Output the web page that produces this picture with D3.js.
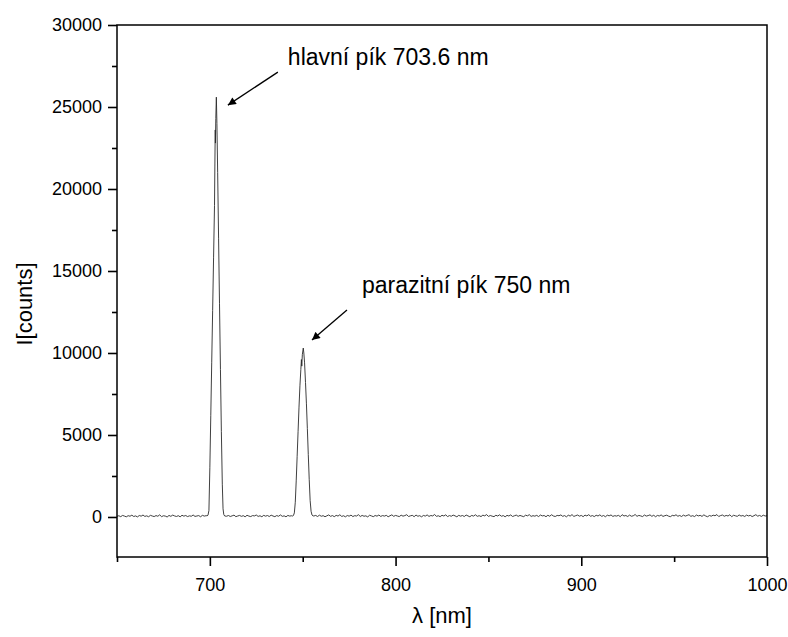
<!DOCTYPE html>
<html>
<head>
<meta charset="utf-8">
<script src="https://cdn.jsdelivr.net/npm/d3@7/dist/d3.min.js"></script>
<style>
  html, body { margin: 0; padding: 0; background: #fff; }
  svg { display: block; font-family: "Liberation Sans", Arial, sans-serif; }
</style>
</head>
<body>
<svg id="chart" width="788" height="637"></svg>
<script>
// Spectrum: baseline segments (start wavelength, 1 nm sampling) and peak profiles [nm, counts]
const baseStartA = 650;
const baseA = [40, 75, 20, 95, 55, 10, 80, 45, 110, 30, 65, 5, 90, 50, 120, 35, 70, 15, 100, 60,
  25, 85, 45, 130, 20, 75, 55, 0, 95, 40, 115, 65, 30, 80, 10, 105, 50, 90, 25, 70,
  45, 120, 35, 60, 85, 15, 100, 55, 80];

const peakMain = [
  [698.5, 70], [699.0, 110], [699.5, 400], [700.0, 3000], [700.5, 6200], [701.0, 9400],
  [701.5, 12600], [702.0, 15800], [702.5, 19000], [702.7, 21400], [702.9, 23600], [703.0, 22800],
  [703.2, 24300], [703.5, 25600], [703.8, 24000], [704.2, 21000], [704.7, 17000], [705.2, 13000],
  [705.7, 9000], [706.2, 5200], [706.7, 2000], [707.1, 500], [707.5, 150], [708.0, 60]
];

const baseStartB = 709;
const baseB = [45, 90, 30, 70, 115, 20, 60, 95, 40, 80, 10, 105, 55, 25, 85, 65, 120, 35, 75, 15,
  100, 50, 90, 30, 110, 60, 20, 85, 45, 125, 40, 70, 10, 95, 55, 75];

const peakSecond = [
  [744.5, 60], [745.0, 90], [745.5, 250], [746.0, 900], [746.5, 2200], [747.0, 3700],
  [747.5, 5200], [748.0, 6700], [748.5, 8000], [749.0, 9000], [749.3, 9600], [749.5, 9200],
  [749.8, 9900], [750.3, 10300], [750.6, 10000], [751.0, 9400], [751.5, 8200], [752.0, 6900],
  [752.5, 5400], [753.0, 3800], [753.5, 2300], [754.0, 1000], [754.5, 350], [755.0, 120], [755.5, 70]
];

const baseStartC = 756;
const baseC = [
  60, 95, 30, 110, 45, 80, 15, 70, 125, 40, 85, 20, 100, 55, 135, 35, 75, 10, 90, 50,
  115, 25, 80, 60, 140, 30, 95, 45, 70, 5, 105, 65, 20, 90, 50, 120, 35, 85, 55, 100,
  15, 75, 130, 40, 95, 60, 25, 110, 50, 85, 140, 30, 70, 100, 20, 120, 45, 80, 10, 95,
  55, 125, 35, 90, 65, 150, 40, 75, 20, 105, 60, 130, 25, 85, 45, 115, 70, 10, 100, 50,
  90, 30, 120, 65, 15, 95, 55, 135, 40, 80, 25, 110, 70, 145, 35, 90, 50, 20, 105, 60,
  130, 45, 85, 10, 100, 60, 125, 30, 75, 115, 40, 95, 55, 20, 110, 70, 140, 35, 80, 50,
  100, 25, 120, 65, 90, 15, 105, 45, 135, 60, 30, 95, 75, 125, 40, 85, 10, 110, 55, 145,
  35, 80, 120, 50, 95, 20, 115, 65, 140, 45, 85, 25, 105, 60, 130, 40, 90, 15, 110, 70,
  125, 35, 80, 55, 100, 20, 140, 60, 90, 30, 115, 45, 75, 150, 40, 95, 65, 25, 120, 55,
  85, 130, 40, 105, 15, 95, 60, 125, 35, 80, 110, 50, 20, 100, 70, 135, 45, 90, 30, 115,
  55, 95, 140, 40, 80, 25, 120, 65, 100, 35, 130, 60, 15, 90, 50, 110, 75, 145, 30, 85,
  120, 45, 95, 60, 135, 20, 105, 70, 40, 125, 55, 90, 30, 115, 65, 100, 25, 80, 140, 50,
  95, 35, 110, 60, 75
];

// Axis ticks
const xMajorTicks = [700, 800, 900, 1000];
const xMinorTicks = [650, 750, 850, 950];
const yMajorTicks = [0, 5000, 10000, 15000, 20000, 25000, 30000];
const yMinorTicks = [2500, 7500, 12500, 17500, 22500, 27500];

// Peak annotations: anchor point on the spectrum and label text
const annotations = [
  { label: "hlavní pík 703.6 nm", nm: 703.5, counts: 25600 },
  { label: "parazitní pík 750 nm", nm: 750.3, counts: 10300 }
];

const xTitle = "λ [nm]";
const yTitle = "I[counts]";

// Assemble the full spectrum in wavelength order
const seg = (start, vals) => vals.map((v, i) => [start + i, v]);
const spectrum = [].concat(
  seg(baseStartA, baseA), peakMain, seg(baseStartB, baseB), peakSecond, seg(baseStartC, baseC)
);

const svg = d3.select("#chart");
const plotLeft = 117, plotRight = 767, plotTop = 25, plotBottom = 557;

const x = d3.scaleLinear().domain([650, 1000]).range([plotLeft, plotRight]);
const y = d3.scaleLinear().domain([-2440, 30000]).range([plotBottom, plotTop]);

// Spectrum line
svg.append("path")
  .datum(spectrum)
  .attr("fill", "none")
  .attr("stroke", "#2a2a2a")
  .attr("stroke-width", 0.9)
  .attr("stroke-linejoin", "round")
  .attr("d", d3.line().x(d => x(d[0])).y(d => y(d[1])));

// Frame
svg.append("rect")
  .attr("x", plotLeft).attr("y", plotTop)
  .attr("width", plotRight - plotLeft).attr("height", plotBottom - plotTop)
  .attr("fill", "none").attr("stroke", "#000").attr("stroke-width", 1.5);

function styleAxis(g, fontSize) {
  g.select(".domain").remove();
  g.selectAll(".tick line").attr("stroke", "#000").attr("stroke-width", 1.6);
  g.selectAll(".tick text").attr("fill", "#000")
    .style("font-size", fontSize + "px")
    .style("font-family", '"Liberation Sans", Arial, sans-serif');
}

// X axis
svg.append("g").attr("transform", `translate(0,${plotBottom})`)
  .call(d3.axisBottom(x).tickValues(xMinorTicks).tickSize(5).tickFormat(""))
  .call(g => styleAxis(g, 18));
svg.append("g").attr("transform", `translate(0,${plotBottom})`)
  .call(d3.axisBottom(x).tickValues(xMajorTicks).tickSize(9).tickPadding(12).tickFormat(d3.format("d")))
  .call(g => styleAxis(g, 18));

// Y axis
svg.append("g").attr("transform", `translate(${plotLeft},0)`)
  .call(d3.axisLeft(y).tickValues(yMinorTicks).tickSize(5).tickFormat(""))
  .call(g => styleAxis(g, 18));
svg.append("g").attr("transform", `translate(${plotLeft},0)`)
  .call(d3.axisLeft(y).tickValues(yMajorTicks).tickSize(9).tickPadding(6).tickFormat(d3.format("d")))
  .call(g => styleAxis(g, 18));

// Axis titles
svg.append("text")
  .attr("x", (plotLeft + plotRight) / 2).attr("y", 623)
  .attr("text-anchor", "middle")
  .style("font-size", "22px")
  .text(xTitle);

svg.append("text")
  .attr("transform", "translate(32,304) rotate(-90)")
  .attr("text-anchor", "middle")
  .style("font-size", "22px")
  .text(yTitle);

// Arrow marker
svg.append("defs").append("marker")
  .attr("id", "arrow")
  .attr("viewBox", "0 0 10 10")
  .attr("refX", 10).attr("refY", 5)
  .attr("markerWidth", 10).attr("markerHeight", 8)
  .attr("markerUnits", "userSpaceOnUse")
  .attr("orient", "auto")
  .append("path").attr("d", "M0,0 L10,5 L0,10 Z").attr("fill", "#000");

// Arrow and label geometry relative to the anchored peak
const arrowGeom = [
  { tipDx: 11.5, tipDy: 8, tailDx: 61.5, tailDy: -25, textDx: 71.5, textDy: -32 },
  { tipDx: 8.7, tipDy: -8, tailDx: 43.7, tailDy: -38, textDx: 58.7, textDy: -55 }
];

annotations.forEach((a, i) => {
  const g = arrowGeom[i];
  const px = x(a.nm), py = y(a.counts);
  svg.append("line")
    .attr("x1", px + g.tailDx).attr("y1", py + g.tailDy)
    .attr("x2", px + g.tipDx).attr("y2", py + g.tipDy)
    .attr("stroke", "#000").attr("stroke-width", 1.3)
    .attr("marker-end", "url(#arrow)");
  svg.append("text")
    .attr("x", px + g.textDx).attr("y", py + g.textDy)
    .style("font-size", "23px")
    .attr("fill", "#000")
    .text(a.label);
});
</script>
</body>
</html>
